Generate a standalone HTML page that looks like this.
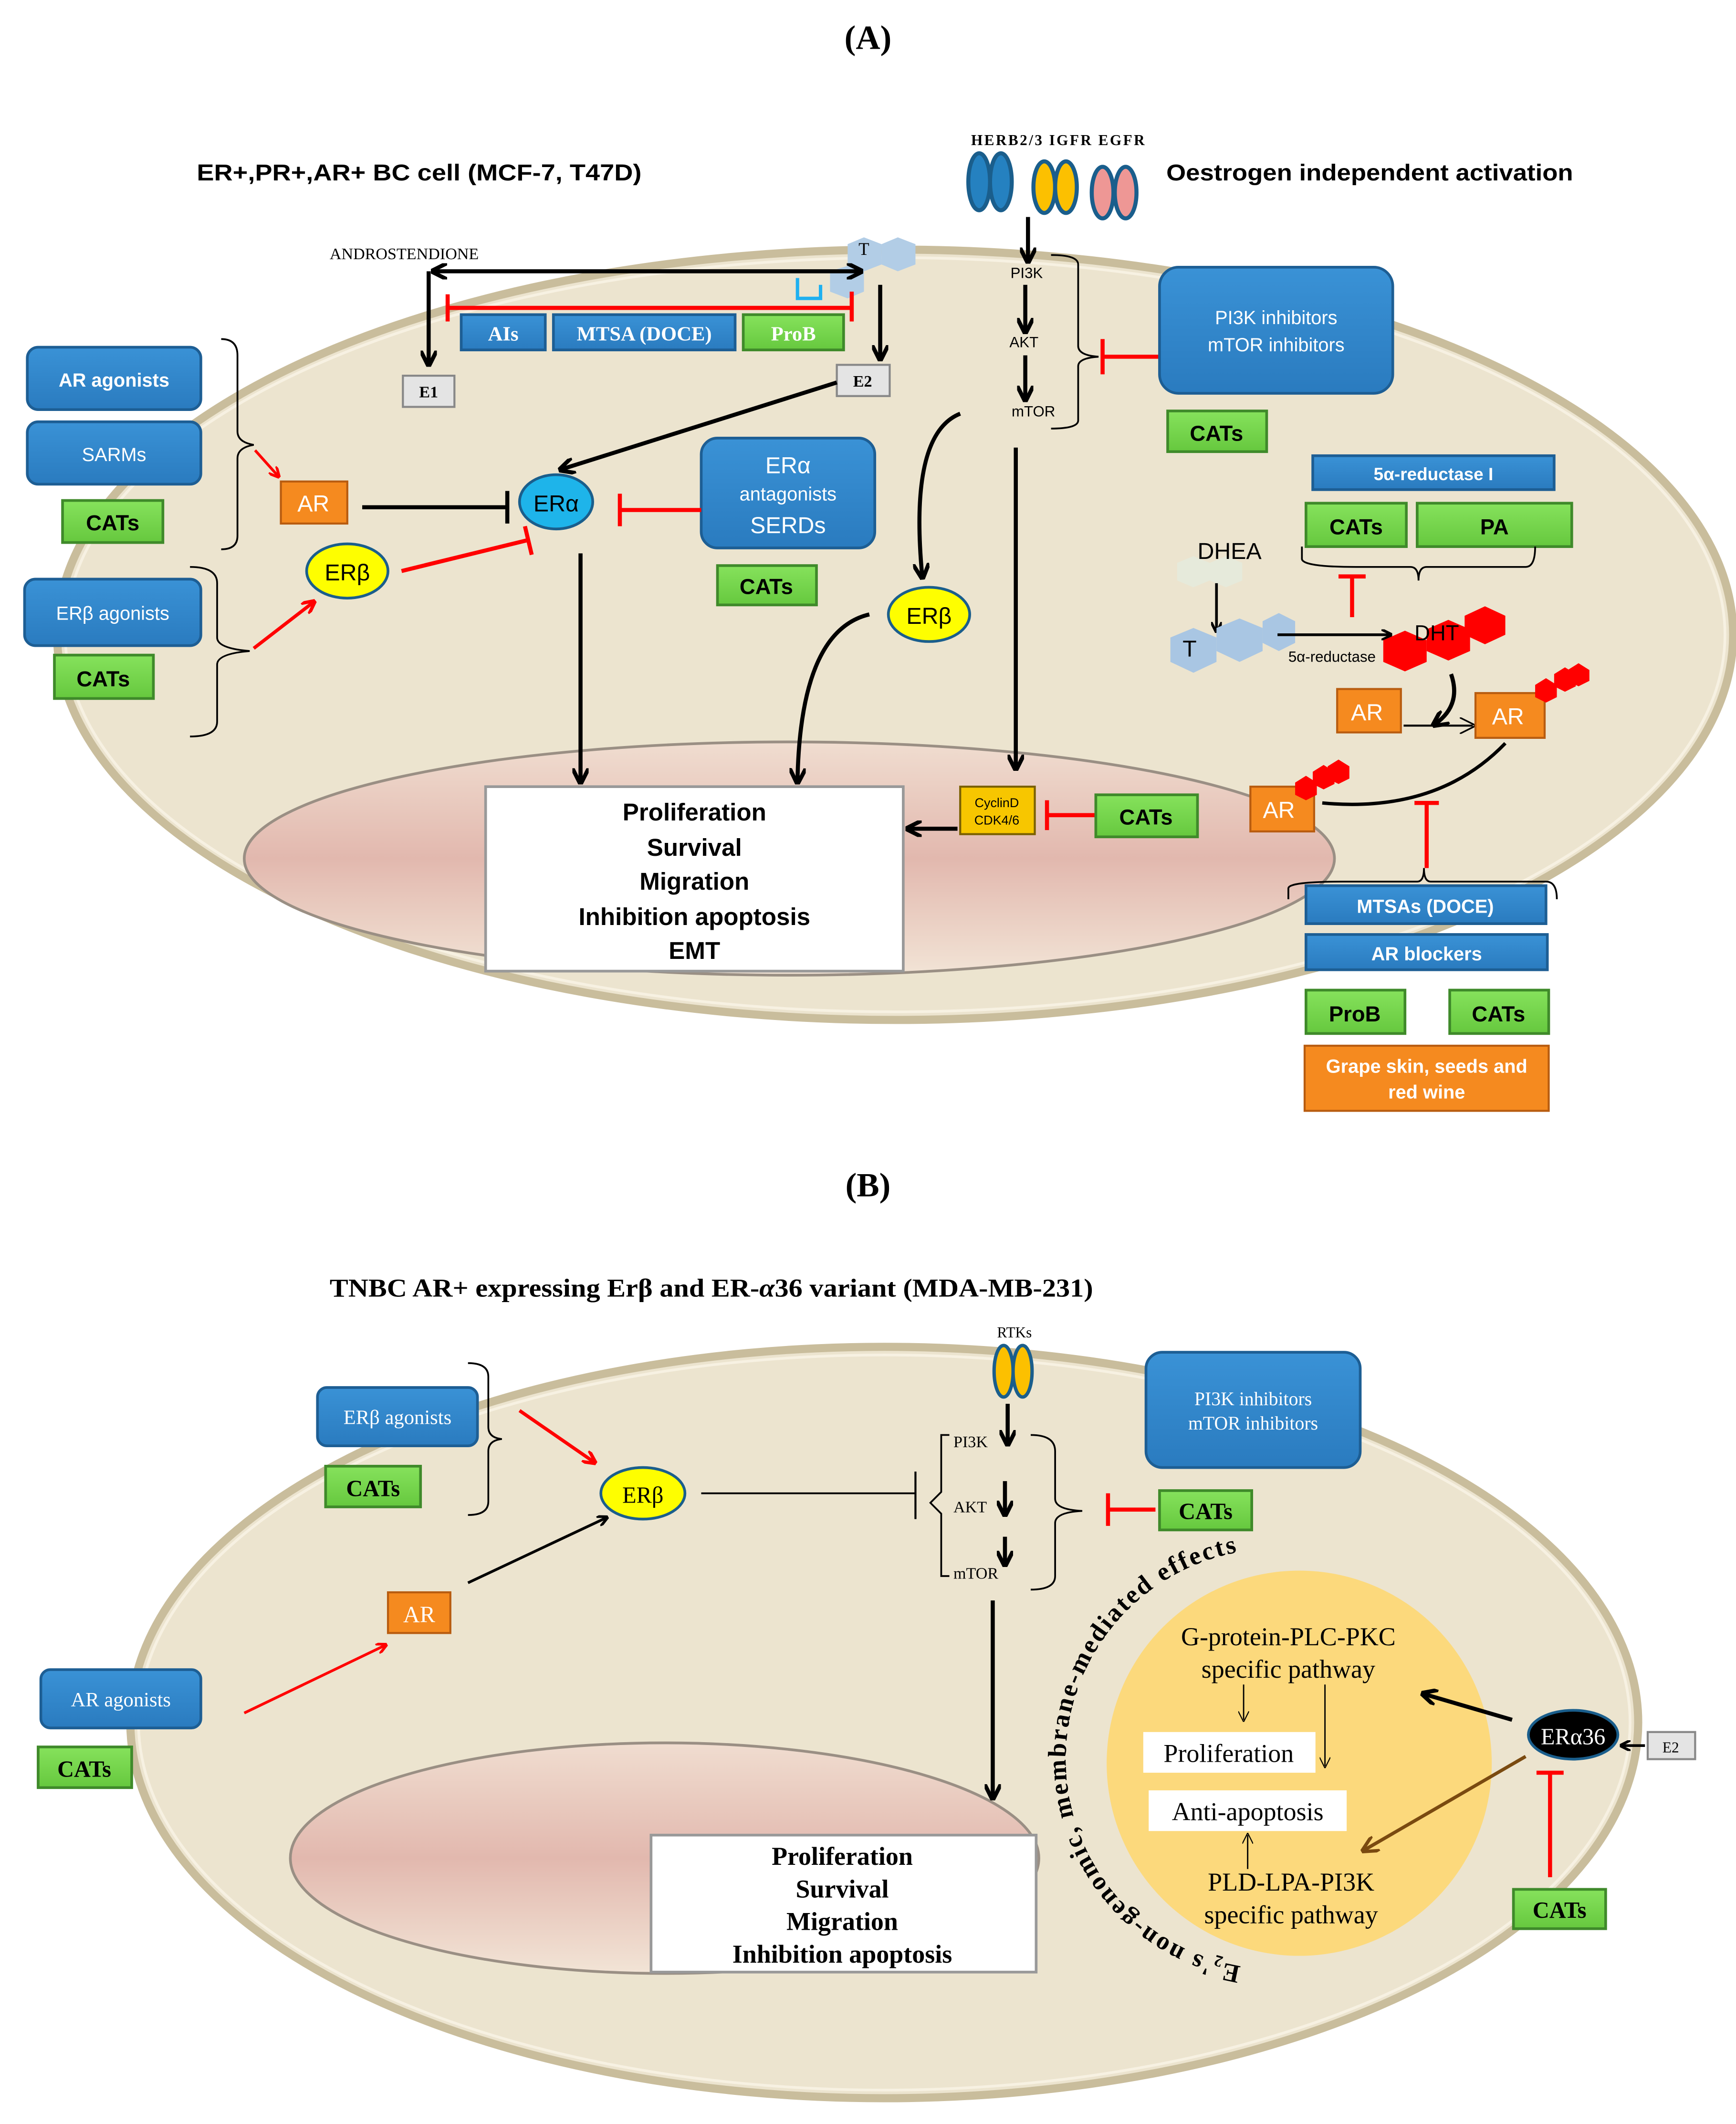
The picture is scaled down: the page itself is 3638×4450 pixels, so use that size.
<!DOCTYPE html>
<html><head><meta charset="utf-8"><style>html,body{margin:0;padding:0;background:#fff}svg{display:block}</style></head><body>
<svg xmlns="http://www.w3.org/2000/svg" width="3638" height="4450" viewBox="0 0 1280 1566">
<defs>
<marker id="a" viewBox="0 0 10 10" refX="8" refY="5" markerWidth="4" markerHeight="4" orient="auto-start-reverse"><path d="M0,0 L10,5 L0,10" fill="none" stroke="#000" stroke-width="2.5"/></marker>
<marker id="ar" viewBox="0 0 10 10" refX="8" refY="5" markerWidth="4" markerHeight="4" orient="auto"><path d="M0,0 L10,5 L0,10" fill="none" stroke="#f00" stroke-width="2.5"/></marker>
<marker id="ab" viewBox="0 0 10 10" refX="8" refY="5" markerWidth="5" markerHeight="5" orient="auto"><path d="M0,0 L10,5 L0,10" fill="none" stroke="#7a4a10" stroke-width="2"/></marker>
<marker id="at" viewBox="0 0 10 10" refX="8" refY="5" markerWidth="8" markerHeight="8" orient="auto"><path d="M0,0 L10,5 L0,10" fill="none" stroke="#000" stroke-width="1"/></marker>
<linearGradient id="nuc" x1="0" y1="0" x2="0" y2="1"><stop offset="0" stop-color="#f0ddd0"/><stop offset="0.5" stop-color="#e2b8ae"/><stop offset="1" stop-color="#f2e4d6"/></linearGradient>
<linearGradient id="bl" x1="0" y1="0" x2="0" y2="1"><stop offset="0" stop-color="#3a92d6"/><stop offset="1" stop-color="#2a7bbf"/></linearGradient>
<linearGradient id="gr" x1="0" y1="0" x2="0" y2="1"><stop offset="0" stop-color="#86e25c"/><stop offset="1" stop-color="#66c83e"/></linearGradient>
<style>
.bb{fill:url(#bl);stroke:#1d5e94;stroke-width:2}
.gb{fill:url(#gr);stroke:#3f8a2a;stroke-width:2}
.ob{fill:#f58a1f;stroke:#b85c10;stroke-width:1.5}
.s{font-family:"Liberation Sans",sans-serif}
.r{font-family:"Liberation Serif",serif}
.k{stroke:#000;stroke-width:3;fill:none}
.rd{stroke:#f00;stroke-width:3;fill:none}
.th{stroke:#000;stroke-width:1.3;fill:none}
</style>
</defs>

<!-- ===== PANEL A ===== -->
<text x="640" y="36" text-anchor="middle" class="r" font-size="25" font-weight="bold">(A)</text>
<ellipse cx="660" cy="468" rx="618" ry="284" fill="#ece4cf" stroke="#c9bd9c" stroke-width="6"/>
<ellipse cx="660" cy="468" rx="612" ry="278" fill="none" stroke="#f7f1e2" stroke-width="2"/>
<ellipse cx="582" cy="633" rx="402" ry="86" fill="url(#nuc)" stroke="#9a8f84" stroke-width="2"/>

<text x="145" y="133" class="s" font-size="17" font-weight="bold" textLength="328" lengthAdjust="spacingAndGlyphs">ER+,PR+,AR+  BC cell  (MCF-7, T47D)</text>
<text x="860" y="133" class="s" font-size="17" font-weight="bold" textLength="300" lengthAdjust="spacingAndGlyphs">Oestrogen independent activation</text>
<text x="716" y="107" class="r" font-size="11" font-weight="bold" textLength="128" lengthAdjust="spacing">HERB2/3  IGFR  EGFR</text>
<g stroke="#1a5e8c" stroke-width="3">
<ellipse cx="722" cy="134" rx="8" ry="21" fill="#2581c0"/><ellipse cx="738" cy="134" rx="8" ry="21" fill="#2581c0"/>
<ellipse cx="770" cy="138" rx="8" ry="19" fill="#fcc000"/><ellipse cx="786" cy="138" rx="8" ry="19" fill="#fcc000"/>
<ellipse cx="813" cy="142" rx="8" ry="19" fill="#ee9795"/><ellipse cx="830" cy="142" rx="8" ry="19" fill="#ee9795"/>
</g>

<text x="243" y="191" class="r" font-size="12">ANDROSTENDIONE</text>
<polygon points="625,180 637,175 650,180 650,195 637,200 625,195" fill="#b2cde6"/>
<polygon points="650,180 662,175 675,180 675,195 662,200 650,195" fill="#b2cde6"/>
<polygon points="612,200 625,196 637,200 637,215 625,220 612,215" fill="#b2cde6"/>
<text x="637" y="188" class="r" font-size="13" text-anchor="middle">T</text>
<path d="M588,205 L588,220 L605,220 L605,210" stroke="#1fb0f0" stroke-width="2.5" fill="none"/>
<line x1="320" y1="200" x2="634" y2="200" class="k" marker-start="url(#a)" marker-end="url(#a)"/>
<line x1="330" y1="227" x2="628" y2="227" class="rd"/><line x1="330" y1="217" x2="330" y2="237" class="rd"/><line x1="628" y1="215" x2="628" y2="237" class="rd"/>
<line x1="316" y1="200" x2="316" y2="268" class="k" marker-end="url(#a)"/>
<line x1="649" y1="210" x2="649" y2="264" class="k" marker-end="url(#a)"/>
<rect x="340" y="232" width="62" height="26" class="bb"/><text x="371" y="251" text-anchor="middle" class="r" font-size="15" font-weight="bold" fill="#fff">AIs</text>
<rect x="408" y="232" width="134" height="26" class="bb"/><text x="475" y="251" text-anchor="middle" class="r" font-size="15" font-weight="bold" fill="#fff">MTSA (DOCE)</text>
<rect x="548" y="232" width="74" height="26" class="gb"/><text x="585" y="251" text-anchor="middle" class="r" font-size="15" font-weight="bold" fill="#fff">ProB</text>
<rect x="297" y="277" width="38" height="23" fill="#e4e4e4" stroke="#888" stroke-width="1.5"/><text x="316" y="293" text-anchor="middle" class="r" font-size="12" font-weight="bold">E1</text>
<rect x="617" y="269" width="39" height="23" fill="#e4e4e4" stroke="#888" stroke-width="1.5"/><text x="636" y="285" text-anchor="middle" class="r" font-size="12" font-weight="bold">E2</text>
<line x1="617" y1="282" x2="414" y2="346" class="k" marker-end="url(#a)"/>

<ellipse cx="410" cy="370" rx="27" ry="20" fill="#1eb4ea" stroke="#1a5e8c" stroke-width="2"/><text x="410" y="377" text-anchor="middle" class="s" font-size="17">ERα</text>
<rect x="207" y="355" width="49" height="31" class="ob"/><text x="231" y="377" text-anchor="middle" class="s" font-size="17" fill="#fff">AR</text>
<line x1="267" y1="374" x2="373" y2="374" class="k"/><line x1="374" y1="362" x2="374" y2="386" class="k"/>
<ellipse cx="256" cy="421" rx="30" ry="20" fill="#fefe00" stroke="#1a5e8c" stroke-width="2"/><text x="256" y="428" text-anchor="middle" class="s" font-size="17">ERβ</text>
<line x1="296" y1="421" x2="390" y2="398" class="rd"/><line x1="387" y1="388" x2="392" y2="409" class="rd"/>
<rect x="517" y="323" width="128" height="81" rx="12" class="bb"/>
<text x="581" y="349" text-anchor="middle" class="s" font-size="17" fill="#fff">ERα</text>
<text x="581" y="369" text-anchor="middle" class="s" font-size="14" fill="#fff">antagonists</text>
<text x="581" y="393" text-anchor="middle" class="s" font-size="17" fill="#fff">SERDs</text>
<line x1="517" y1="376" x2="457" y2="376" class="rd"/><line x1="457" y1="364" x2="457" y2="388" class="rd"/>
<rect x="529" y="417" width="73" height="29" class="gb"/><text x="565" y="438" text-anchor="middle" class="s" font-size="16" font-weight="bold">CATs</text>

<rect x="20" y="256" width="128" height="46" rx="8" class="bb"/><text x="84" y="285" text-anchor="middle" class="s" font-size="14" font-weight="bold" fill="#fff">AR agonists</text>
<rect x="20" y="311" width="128" height="46" rx="8" class="bb"/><text x="84" y="340" text-anchor="middle" class="s" font-size="14" fill="#fff">SARMs</text>
<rect x="46" y="369" width="74" height="31" class="gb"/><text x="83" y="391" text-anchor="middle" class="s" font-size="16" font-weight="bold">CATs</text>
<path d="M163,250 Q175,250 175,262 L175,318 Q175,326 187,328 Q175,330 175,338 L175,395 Q175,405 163,405" class="th"/>
<line x1="188" y1="332" x2="205" y2="351" stroke="#f00" stroke-width="2" marker-end="url(#ar)"/>
<rect x="18" y="427" width="130" height="49" rx="8" class="bb"/><text x="83" y="457" text-anchor="middle" class="s" font-size="14" fill="#fff">ERβ agonists</text>
<rect x="40" y="483" width="73" height="32" class="gb"/><text x="76" y="506" text-anchor="middle" class="s" font-size="16" font-weight="bold">CATs</text>
<path d="M140,418 Q160,418 160,430 L160,470 Q160,478 184,480 Q160,482 160,490 L160,532 Q160,543 140,543" class="th"/>
<line x1="187" y1="478" x2="231" y2="444" stroke="#f00" stroke-width="2.5" marker-end="url(#ar)"/>

<line x1="428" y1="408" x2="428" y2="576" class="k" marker-end="url(#a)"/>
<rect x="358" y="580" width="308" height="136" fill="#fff" stroke="#999" stroke-width="2"/>
<g class="s" font-size="18" font-weight="bold" text-anchor="middle">
<text x="512" y="605">Proliferation</text><text x="512" y="631">Survival</text><text x="512" y="656">Migration</text><text x="512" y="682">Inhibition apoptosis</text><text x="512" y="707">EMT</text></g>

<text x="757" y="205" text-anchor="middle" class="s" font-size="11">PI3K</text>
<text x="755" y="256" text-anchor="middle" class="s" font-size="11">AKT</text>
<text x="762" y="307" text-anchor="middle" class="s" font-size="11">mTOR</text>
<line x1="758" y1="160" x2="758" y2="192" class="k" marker-end="url(#a)"/>
<line x1="756" y1="210" x2="756" y2="244" class="k" marker-end="url(#a)"/>
<line x1="756" y1="262" x2="756" y2="294" class="k" marker-end="url(#a)"/>
<path d="M775,188 Q795,188 795,195 L795,255 Q795,262 810,263 Q795,264 795,270 L795,310 Q795,316 775,316" class="th"/>
<line x1="855" y1="263" x2="812" y2="263" class="rd"/><line x1="813" y1="250" x2="813" y2="276" class="rd"/>
<rect x="855" y="197" width="172" height="93" rx="14" class="bb"/>
<text x="941" y="239" text-anchor="middle" class="s" font-size="14" fill="#fff">PI3K inhibitors</text>
<text x="941" y="259" text-anchor="middle" class="s" font-size="14" fill="#fff">mTOR inhibitors</text>
<rect x="861" y="303" width="73" height="30" class="gb"/><text x="897" y="325" text-anchor="middle" class="s" font-size="16" font-weight="bold">CATs</text>

<path d="M708,305 Q670,320 680,425" class="k" marker-end="url(#a)"/>
<ellipse cx="685" cy="453" rx="30" ry="20" fill="#fefe00" stroke="#1a5e8c" stroke-width="2"/><text x="685" y="460" text-anchor="middle" class="s" font-size="17">ERβ</text>
<path d="M641,453 Q590,465 588,576" class="k" marker-end="url(#a)"/>
<line x1="749" y1="330" x2="749" y2="566" class="k" marker-end="url(#a)"/>
<rect x="708" y="580" width="55" height="35" fill="#f7c600" stroke="#7a6000" stroke-width="1.5"/>
<text x="735" y="595" text-anchor="middle" class="s" font-size="9.5">CyclinD</text><text x="735" y="608" text-anchor="middle" class="s" font-size="9.5">CDK4/6</text>
<line x1="706" y1="611" x2="670" y2="611" class="k" marker-end="url(#a)"/>
<line x1="808" y1="601" x2="772" y2="601" class="rd"/><line x1="772" y1="590" x2="772" y2="612" class="rd"/>
<rect x="808" y="586" width="75" height="31" class="gb"/><text x="845" y="608" text-anchor="middle" class="s" font-size="16" font-weight="bold">CATs</text>

<rect x="968" y="336" width="178" height="25" class="bb"/><text x="1057" y="354" text-anchor="middle" class="s" font-size="13" font-weight="bold" fill="#fff">5α-reductase I</text>
<rect x="963" y="371" width="74" height="32" class="gb"/><text x="1000" y="394" text-anchor="middle" class="s" font-size="16" font-weight="bold">CATs</text>
<rect x="1045" y="371" width="114" height="32" class="gb"/><text x="1102" y="394" text-anchor="middle" class="s" font-size="16" font-weight="bold">PA</text>
<path d="M960,403 L960,412 Q960,418 1000,418 L1040,418 Q1046,418 1046,428 Q1046,418 1052,418 L1125,418 Q1132,418 1132,403" class="th"/>
<line x1="997" y1="425" x2="997" y2="455" class="rd"/><line x1="987" y1="425" x2="1007" y2="425" class="rd"/>
<polygon points="868,415 880,410 892,415 892,428 880,433 868,428" fill="#e6eadb"/>
<polygon points="892,415 904,410 916,415 916,428 904,433 892,428" fill="#e6eadb"/>
<text x="883" y="412" class="s" font-size="17">DHEA</text>
<line x1="897" y1="430" x2="897" y2="465" stroke="#000" stroke-width="2" marker-end="url(#a)"/>
<polygon points="863,470 880,463 897,470 897,488 880,496 863,488" fill="#a9c6e3"/>
<polygon points="897,463 914,456 931,463 931,480 914,488 897,480" fill="#a9c6e3"/>
<polygon points="931,458 943,452 955,458 955,474 943,480 931,474" fill="#a9c6e3"/>
<text x="872" y="484" class="s" font-size="17">T</text>
<line x1="942" y1="468" x2="1025" y2="468" stroke="#000" stroke-width="2" marker-end="url(#a)"/>
<text x="950" y="488" class="s" font-size="11">5α-reductase</text>
<polygon points="1020,472 1036,465 1052,472 1052,488 1036,495 1020,488" fill="#f00"/>
<polygon points="1052,464 1068,457 1084,464 1084,480 1068,487 1052,480" fill="#f00"/>
<polygon points="1080,454 1095,447 1110,454 1110,468 1095,475 1080,468" fill="#f00"/>
<text x="1043" y="472" class="s" font-size="16">DHT</text>
<path d="M1070,497 Q1078,520 1058,534" stroke="#000" stroke-width="3" fill="none" marker-end="url(#a)"/>
<rect x="986" y="508" width="47" height="32" class="ob"/><text x="1008" y="531" text-anchor="middle" class="s" font-size="17" fill="#fff">AR</text>
<line x1="1035" y1="535" x2="1086" y2="535" stroke="#000" stroke-width="1.5" marker-end="url(#at)"/>
<rect x="1088" y="511" width="51" height="33" class="ob"/><text x="1112" y="534" text-anchor="middle" class="s" font-size="17" fill="#fff">AR</text>
<polygon points="1132,505 1140,500 1148,505 1148,514 1140,518 1132,514" fill="#f00"/>
<polygon points="1146,497 1154,492 1162,497 1162,506 1154,510 1146,506" fill="#f00"/>
<polygon points="1156,494 1164,489 1172,494 1172,502 1164,506 1156,502" fill="#f00"/>
<path d="M1110,548 Q1060,600 975,592" stroke="#000" stroke-width="2.5" fill="none"/>
<rect x="922" y="580" width="47" height="33" class="ob"/><text x="943" y="603" text-anchor="middle" class="s" font-size="17" fill="#fff">AR</text>
<polygon points="955,577 963,572 971,577 971,586 963,590 955,586" fill="#f00"/>
<polygon points="968,569 976,564 984,569 984,578 976,582 968,578" fill="#f00"/>
<polygon points="979,565 987,560 995,565 995,574 987,578 979,574" fill="#f00"/>
<line x1="1052" y1="640" x2="1052" y2="592" class="rd"/><line x1="1043" y1="592" x2="1061" y2="592" class="rd"/>
<path d="M950,663 L950,655 Q950,650 990,650 L1045,650 Q1050,650 1050,640 Q1050,650 1055,650 L1140,650 Q1148,650 1148,663" class="th"/>
<rect x="963" y="653" width="177" height="28" class="bb"/><text x="1051" y="673" text-anchor="middle" class="s" font-size="14" font-weight="bold" fill="#fff">MTSAs (DOCE)</text>
<rect x="963" y="689" width="178" height="26" class="bb"/><text x="1052" y="708" text-anchor="middle" class="s" font-size="14" font-weight="bold" fill="#fff">AR blockers</text>
<rect x="963" y="730" width="73" height="32" class="gb"/><text x="999" y="753" text-anchor="middle" class="s" font-size="16" font-weight="bold">ProB</text>
<rect x="1069" y="730" width="73" height="32" class="gb"/><text x="1105" y="753" text-anchor="middle" class="s" font-size="16" font-weight="bold">CATs</text>
<rect x="962" y="771" width="180" height="48" class="ob" fill="#f57a10"/>
<text x="1052" y="791" text-anchor="middle" class="s" font-size="14" font-weight="bold" fill="#fff">Grape skin, seeds and</text>
<text x="1052" y="810" text-anchor="middle" class="s" font-size="14" font-weight="bold" fill="#fff">red wine</text>

<!-- ===== PANEL B ===== -->
<text x="640" y="882" text-anchor="middle" class="r" font-size="25" font-weight="bold">(B)</text>
<text x="243" y="956" class="r" font-size="19" font-weight="bold" textLength="563" lengthAdjust="spacingAndGlyphs">TNBC  AR+ expressing Erβ and ER-<tspan font-style="italic">α</tspan>36 variant (MDA-MB-231)</text>
<ellipse cx="652" cy="1270" rx="556" ry="277" fill="#ece4cf" stroke="#c9bd9c" stroke-width="6"/>
<ellipse cx="652" cy="1270" rx="550" ry="271" fill="none" stroke="#f7f1e2" stroke-width="2"/>
<ellipse cx="490" cy="1370" rx="276" ry="85" fill="url(#nuc)" stroke="#9a8f84" stroke-width="2"/>

<text x="748" y="986" text-anchor="middle" class="r" font-size="11">RTKs</text>
<g stroke="#1a5e8c" stroke-width="2.5" fill="#fcc000"><ellipse cx="740" cy="1011" rx="7" ry="19"/><ellipse cx="754" cy="1011" rx="7" ry="19"/></g>
<text x="703" y="1067" class="r" font-size="12">PI3K</text>
<text x="703" y="1115" class="r" font-size="12">AKT</text>
<text x="703" y="1164" class="r" font-size="12">mTOR</text>
<path d="M700,1058 L694,1058 L694,1100 L686,1108 L694,1116 L694,1162 L700,1162" class="th"/>
<line x1="743" y1="1035" x2="743" y2="1064" class="k" marker-end="url(#a)"/>
<line x1="741" y1="1092" x2="741" y2="1116" class="k" marker-end="url(#a)"/>
<line x1="741" y1="1133" x2="741" y2="1153" class="k" marker-end="url(#a)"/>
<path d="M760,1058 Q778,1058 778,1070 L778,1105 Q778,1113 798,1114 Q778,1115 778,1123 L778,1162 Q778,1172 760,1172" class="th"/>
<line x1="852" y1="1113" x2="817" y2="1113" class="rd"/><line x1="817" y1="1101" x2="817" y2="1125" class="rd"/>
<rect x="855" y="1099" width="68" height="29" class="gb"/><text x="889" y="1120" text-anchor="middle" class="r" font-size="17" font-weight="bold">CATs</text>
<rect x="845" y="997" width="158" height="85" rx="12" class="bb"/>
<text x="924" y="1036" text-anchor="middle" class="r" font-size="14" fill="#fff">PI3K inhibitors</text>
<text x="924" y="1054" text-anchor="middle" class="r" font-size="14" fill="#fff">mTOR inhibitors</text>

<rect x="234" y="1023" width="118" height="43" rx="7" class="bb"/><text x="293" y="1050" text-anchor="middle" class="r" font-size="15" fill="#fff">ERβ agonists</text>
<rect x="240" y="1081" width="70" height="30" class="gb"/><text x="275" y="1103" text-anchor="middle" class="r" font-size="17" font-weight="bold">CATs</text>
<path d="M345,1005 Q360,1005 360,1015 L360,1052 Q360,1060 370,1061 Q360,1062 360,1070 L360,1107 Q360,1117 345,1117" class="th"/>
<line x1="383" y1="1040" x2="438" y2="1078" stroke="#f00" stroke-width="2.5" marker-end="url(#ar)"/>
<ellipse cx="474" cy="1101" rx="31" ry="19" fill="#fefe00" stroke="#1a5e8c" stroke-width="2"/><text x="474" y="1108" text-anchor="middle" class="r" font-size="17">ERβ</text>
<line x1="517" y1="1101" x2="675" y2="1101" stroke="#000" stroke-width="1.3"/><line x1="675" y1="1085" x2="675" y2="1120" stroke="#000" stroke-width="1.5"/>
<rect x="286" y="1174" width="46" height="30" class="ob"/><text x="309" y="1196" text-anchor="middle" class="r" font-size="17" fill="#fff">AR</text>
<line x1="345" y1="1167" x2="447" y2="1119" stroke="#000" stroke-width="2" marker-end="url(#a)"/>
<rect x="30" y="1231" width="118" height="43" rx="7" class="bb"/><text x="89" y="1258" text-anchor="middle" class="r" font-size="15" fill="#fff">AR agonists</text>
<rect x="28" y="1288" width="69" height="30" class="gb"/><text x="62" y="1310" text-anchor="middle" class="r" font-size="17" font-weight="bold">CATs</text>
<line x1="180" y1="1263" x2="284" y2="1213" stroke="#f00" stroke-width="2" marker-end="url(#ar)"/>
<line x1="732" y1="1180" x2="732" y2="1325" class="k" marker-end="url(#a)"/>
<rect x="480" y="1353" width="284" height="101" fill="#fff" stroke="#999" stroke-width="2"/>
<g class="r" font-size="19" font-weight="bold" text-anchor="middle">
<text x="621" y="1375">Proliferation</text><text x="621" y="1399">Survival</text><text x="621" y="1423">Migration</text><text x="621" y="1447">Inhibition apoptosis</text></g>

<circle cx="958" cy="1300" r="142" fill="#fcd97c"/>
<text x="950" y="1213" text-anchor="middle" class="r" font-size="19">G-protein-PLC-PKC</text>
<text x="950" y="1237" text-anchor="middle" class="r" font-size="19">specific pathway</text>
<rect x="843" y="1277" width="127" height="30" fill="#fff"/><text x="906" y="1299" text-anchor="middle" class="r" font-size="19">Proliferation</text>
<rect x="847" y="1320" width="146" height="30" fill="#fff"/><text x="920" y="1342" text-anchor="middle" class="r" font-size="19">Anti-apoptosis</text>
<line x1="917" y1="1242" x2="917" y2="1268" stroke="#000" stroke-width="1" marker-end="url(#at)"/>
<line x1="977" y1="1242" x2="977" y2="1302" stroke="#000" stroke-width="1" marker-end="url(#at)"/>
<line x1="920" y1="1378" x2="920" y2="1353" stroke="#000" stroke-width="1" marker-end="url(#at)"/>
<text x="952" y="1394" text-anchor="middle" class="r" font-size="19">PLD-LPA-PI3K</text>
<text x="952" y="1418" text-anchor="middle" class="r" font-size="19">specific pathway</text>
<ellipse cx="1160" cy="1279" rx="33" ry="18" fill="#000" stroke="#1a5e8c" stroke-width="2"/><text x="1160" y="1286" text-anchor="middle" class="r" font-size="17" fill="#fff">ERα36</text>
<line x1="1115" y1="1268" x2="1050" y2="1249" class="k" marker-end="url(#a)"/>
<line x1="1125" y1="1295" x2="1006" y2="1364" stroke="#7a4a10" stroke-width="2.5" marker-end="url(#ab)"/>
<rect x="1215" y="1277" width="35" height="20" fill="#e4e4e4" stroke="#888" stroke-width="1.5"/><text x="1232" y="1292" text-anchor="middle" class="r" font-size="11">E2</text>
<line x1="1213" y1="1287" x2="1196" y2="1287" stroke="#000" stroke-width="2" marker-end="url(#a)"/>
<line x1="1143" y1="1384" x2="1143" y2="1307" class="rd"/><line x1="1133" y1="1307" x2="1153" y2="1307" class="rd"/>
<rect x="1116" y="1393" width="68" height="29" class="gb"/><text x="1150" y="1414" text-anchor="middle" class="r" font-size="17" font-weight="bold">CATs</text>
<path id="arc" d="M917,1450 A155,155 0 0 1 922,1143" fill="none"/>
<text class="r" font-size="19" font-weight="bold"><textPath href="#arc" startOffset="2" textLength="432" lengthAdjust="spacing">E<tspan font-size="12" dy="4">2</tspan><tspan dy="-4">'s non-genomic, membrane-mediated effects</tspan></textPath></text>
</svg>
</body></html>
